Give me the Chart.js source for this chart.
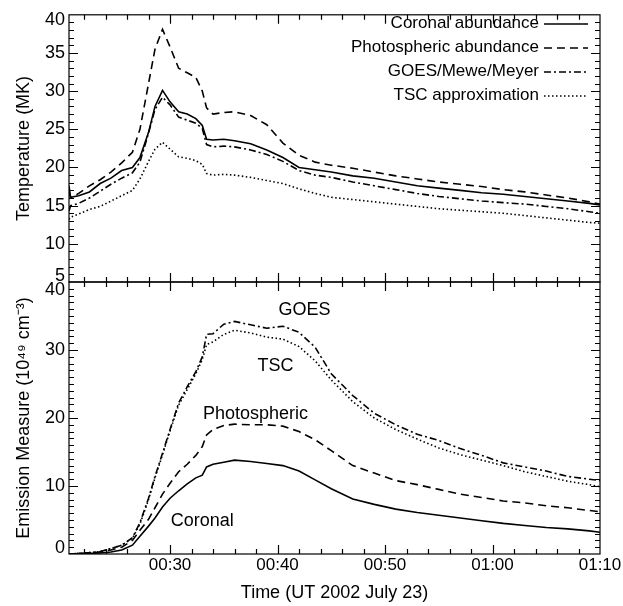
<!DOCTYPE html>
<html>
<head>
<meta charset="utf-8">
<script src="https://cdn.jsdelivr.net/npm/chart.js@4.4.1/dist/chart.umd.min.js"></script>
<style>
html, body { margin: 0; padding: 0; background: #fff; }
#wrap { position: relative; width: 623px; height: 606px; }
canvas { position: absolute; left: 0; top: 0; }
</style>
</head>
<body>
<div id="wrap">
  <canvas id="temp" width="623" height="606"></canvas>
  <canvas id="em" width="623" height="606"></canvas>
</div>
<script>
// minutes after 00:00 UT, 2002 July 23
const minutes = [20.6, 20.75, 21.5, 22.5, 23.5, 24.5, 25.5, 26.5, 27.2, 28, 28.6, 29.3, 30, 30.8,
    31.6, 32.4, 33, 33.4, 34, 35, 36, 37.5, 39, 40.5, 42, 43.5, 45, 47, 49, 51, 53, 55, 57, 59,
    61, 63, 65, 67, 69, 70];

// temperature (MK)
const coronalT = [17.6, 16.1, 16.3, 16.8, 17.9, 18.6, 19.6, 20.0, 21.3, 24.6, 28.0, 30.1, 28.6, 27.3,
    27.0, 26.4, 25.5, 23.7, 23.6, 23.7, 23.5, 23.1, 22.3, 21.3, 20.0, 19.7, 19.4, 18.9, 18.6, 18.1,
    17.6, 17.3, 17.0, 16.7, 16.5, 16.2, 15.9, 15.6, 15.3, 15.1];
const photoT = [16.8, 16.0, 16.6, 17.6, 18.4, 19.4, 20.6, 22.0, 25.0, 31.0, 35.5, 38.1, 35.8, 33.0,
    32.4, 31.8, 30.0, 27.8, 27.0, 27.2, 27.3, 26.8, 25.6, 23.2, 21.6, 20.7, 20.3, 19.9, 19.4, 18.9,
    18.5, 18.1, 17.8, 17.5, 17.1, 16.8, 16.4, 16.0, 15.5, 15.2];
const goesT = [14.3, 15.0, 15.3, 16.0, 16.9, 17.8, 18.6, 19.3, 20.7, 24.5, 27.6, 29.2, 28.2, 26.6,
    26.2, 25.8, 25.1, 23.0, 22.7, 22.8, 22.7, 22.3, 21.7, 20.8, 19.6, 19.0, 18.7, 18.1, 17.6, 17.1,
    16.6, 16.2, 15.9, 15.6, 15.4, 15.2, 14.9, 14.6, 14.2, 14.0];
const tscT = [13.2, 13.5, 13.9, 14.5, 14.9, 15.6, 16.3, 17.0, 18.5, 20.8, 22.4, 23.3, 22.4, 21.4,
    21.2, 20.9, 20.4, 19.2, 19.0, 19.1, 19.0, 18.7, 18.3, 17.9, 17.2, 16.6, 16.1, 15.8, 15.5, 15.2,
    14.9, 14.6, 14.4, 14.2, 14.0, 13.7, 13.4, 13.1, 12.8, 12.7];

// emission measure (1e49 cm^-3)
const coronalEM = [0.0, 0.0, 0.05, 0.1, 0.15, 0.3, 0.6, 1.3, 2.6, 4.1, 5.3, 6.9, 8.2, 9.3,
    10.3, 11.2, 11.6, 12.8, 13.2, 13.5, 13.8, 13.6, 13.3, 13.0, 12.2, 10.9, 9.6, 8.1, 7.3, 6.6,
    6.1, 5.7, 5.3, 4.9, 4.5, 4.2, 3.9, 3.7, 3.4, 3.2];
const photoEM = [0.0, 0.0, 0.05, 0.15, 0.3, 0.6, 1.0, 2.0, 3.5, 5.1, 6.8, 8.8, 10.4, 12.1,
    13.2, 14.5, 15.8, 17.5, 18.3, 18.9, 19.1, 19.0, 19.0, 18.8, 18.0, 16.8, 15.2, 13.0, 11.9, 10.8,
    10.2, 9.5, 8.8, 8.3, 7.8, 7.5, 7.1, 6.8, 6.4, 6.2];
const goesEM = [0.0, 0.0, 0.1, 0.2, 0.35, 0.8, 1.3, 2.4, 4.6, 8.2, 11.4, 14.8, 18.3, 22.2,
    24.6, 26.8, 29.0, 32.3, 32.4, 33.8, 34.2, 33.7, 33.2, 33.5, 32.6, 30.4, 26.5, 23.3, 20.7, 19.0,
    17.6, 16.7, 15.5, 14.5, 13.4, 12.8, 12.2, 11.4, 11.0, 10.8];
const tscEM = [0.0, 0.0, 0.1, 0.2, 0.35, 0.8, 1.3, 2.3, 4.4, 8.0, 11.2, 14.6, 18.1, 21.9,
    24.2, 26.5, 28.6, 30.8, 31.2, 32.3, 32.9, 32.5, 31.9, 31.6, 30.5, 28.4, 25.6, 22.4, 20.0, 18.3,
    16.9, 15.6, 14.6, 13.8, 13.0, 12.1, 11.4, 10.7, 10.2, 9.9];

const seriesNames = ["Coronal abundance", "Photospheric abundance", "GOES/Mewe/Meyer", "TSC approximation"];
const curveNotes = [
    {text: "GOES", x: 42.5, y: 35.9},
    {text: "TSC", x: 39.8, y: 27.6},
    {text: "Photospheric", x: 37.95, y: 20.6},
    {text: "Coronal", x: 33.0, y: 4.85}
];

const FONT = "'Liberation Sans', Arial, sans-serif";
const dashes = [[], [8, 5], [7, 3, 2, 3], [1.5, 2.5]];

function toPoints(vals) {
    return minutes.map((m, i) => ({x: m, y: vals[i]}));
}

function makeDatasets(list) {
    return list.map((vals, i) => ({
        label: seriesNames[i],
        data: toPoints(vals),
        borderColor: "#000",
        borderWidth: 1.6,
        borderDash: dashes[i],
        pointRadius: 0,
        tension: 0,
        fill: false
    }));
}

// frame, inward ticks on every side, end labels, legend / notes
const framePlugin = {
    id: "frame",
    afterDraw(chart, args, opts) {
        const {ctx, chartArea: a, scales: {x, y}} = chart;
        ctx.save();
        ctx.strokeStyle = "#000";
        ctx.lineWidth = 1.2;
        ctx.strokeRect(a.left, a.top, a.right - a.left, a.bottom - a.top);
        ctx.beginPath();
        for (let m = 22; m < 70; m += 2) {
            const px = Math.round(x.getPixelForValue(m)) + 0.5;
            const len = m % 10 === 0 ? 9 : 5;
            ctx.moveTo(px, a.top); ctx.lineTo(px, a.top + len);
            ctx.moveTo(px, a.bottom); ctx.lineTo(px, a.bottom - len);
        }
        for (let v = y.min + 1; v < y.max; v += 1) {
            const py = Math.round(y.getPixelForValue(v)) + 0.5;
            const len = v % opts.major === 0 ? 9 : 5;
            ctx.moveTo(a.left, py); ctx.lineTo(a.left + len, py);
            ctx.moveTo(a.right, py); ctx.lineTo(a.right - len, py);
        }
        ctx.stroke();

        ctx.fillStyle = "#000";
        ctx.font = "18px " + FONT;
        ctx.textAlign = "right";
        ctx.textBaseline = "middle";
        ctx.fillText(String(y.max), a.left - 4, a.top + opts.topShift);
        ctx.fillText(String(y.min), a.left - 4, a.bottom - 6);

        if (opts.legend) {
            ctx.font = "17px " + FONT;
            chart.data.datasets.forEach((ds, i) => {
                const ly = 23 + i * 24;
                ctx.fillText(ds.label, 539, ly);
                ctx.beginPath();
                ctx.setLineDash(ds.borderDash);
                ctx.lineWidth = 1.5;
                ctx.moveTo(544, ly + 1);
                ctx.lineTo(588, ly + 1);
                ctx.stroke();
                ctx.setLineDash([]);
            });
        }
        if (opts.notes) {
            ctx.font = "18px " + FONT;
            ctx.textAlign = "center";
            opts.notes.forEach(n => {
                ctx.fillText(n.text, x.getPixelForValue(n.x), y.getPixelForValue(n.y));
            });
        }
        ctx.restore();
    }
};

Chart.defaults.font.family = FONT;
Chart.defaults.color = "#000";

const hideEnds = (v, i, ticks) => (i === 0 || i === ticks.length - 1) ? "" : v;
const clock = v => "0" + Math.floor(v / 60) + ":" + String(v % 60).padStart(2, "0");

function baseOptions(yMin, yMax, yStep, yTitle, pluginOpts) {
    return {
        responsive: false,
        animation: false,
        events: [],
        plugins: {legend: {display: false}, tooltip: {enabled: false}, frame: pluginOpts},
        scales: {
            x: {
                type: "linear", min: 20.6, max: 70,
                grid: {display: false, drawTicks: false},
                border: {display: false},
                ticks: {stepSize: 10, includeBounds: false, autoSkip: false, maxRotation: 0,
                    padding: 1.5, font: {size: 17}, callback: clock}
            },
            y: {
                min: yMin, max: yMax,
                grid: {display: false, drawTicks: false},
                border: {display: false},
                ticks: {stepSize: yStep, padding: 4, font: {size: 18}, callback: hideEnds},
                title: {display: true, text: yTitle, font: {size: 18}, padding: {top: 13, bottom: 0}},
                afterFit(scale) { scale.width = 69; }
            }
        }
    };
}

const tempOpts = baseOptions(5, 40, 5, "Temperature (MK)", {major: 5, topShift: 5, legend: true});
tempOpts.layout = {padding: {top: 10, right: 23, left: 0, bottom: 0}};
tempOpts.scales.x.ticks.display = false;
tempOpts.scales.x.afterFit = scale => { scale.height = 324; };

new Chart(document.getElementById("temp"), {
    type: "line",
    data: {datasets: makeDatasets([coronalT, photoT, goesT, tscT])},
    options: tempOpts,
    plugins: [framePlugin]
});

const emOpts = baseOptions(0, 40, 10, ["Emission Measure (10\u2074\u2079 cm\u207B\u00B3)"], {major: 10, topShift: 8, notes: curveNotes});
emOpts.layout = {padding: {top: 282, right: 23, left: 0, bottom: 0}};
emOpts.scales.x.title = {display: true, text: "Time (UT 2002 July 23)", font: {size: 18}, padding: {top: 0, bottom: 2}};
emOpts.scales.x.afterFit = scale => { scale.height = 52; };

new Chart(document.getElementById("em"), {
    type: "line",
    data: {datasets: makeDatasets([coronalEM, photoEM, goesEM, tscEM])},
    options: emOpts,
    plugins: [framePlugin]
});
</script>
</body>
</html>
